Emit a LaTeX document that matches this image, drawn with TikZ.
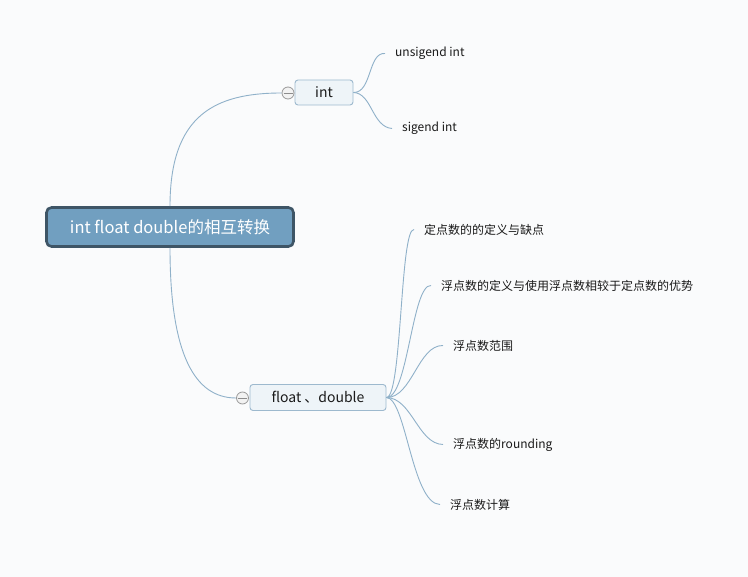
\documentclass[tikz,border=0pt]{standalone}
\usepackage{fontspec}
\setmainfont{Noto Sans CJK SC}
\definecolor{bgc}{HTML}{FAFBFC}
\definecolor{rootfill}{HTML}{719FC0}
\definecolor{rootdraw}{HTML}{3E5566}
\definecolor{subfill}{HTML}{EEF4F8}
\definecolor{subdraw}{HTML}{9DB9CE}
\definecolor{linec}{HTML}{8FB1C9}
\definecolor{txt}{HTML}{1A1A1A}
\begin{document}
\begin{tikzpicture}[x=1pt,y=-1pt,
  rootbox/.style={draw=rootdraw,fill=rootfill,line width=2.6pt,rounded corners=5pt,minimum width=247pt,minimum height=39pt,inner sep=0pt,text=white,font=\fontsize{16.5}{19}\selectfont},
  subbox/.style={draw=subdraw,fill=subfill,line width=0.9pt,rounded corners=3pt,inner sep=0pt,minimum height=25pt,text=txt,font=\fontsize{14}{16}\selectfont},
  leaf/.style={anchor=west,inner xsep=10pt,inner ysep=2pt,text=txt,font=\fontsize{12}{14}\selectfont},
  knob/.style={circle,draw=gray!80,fill=gray!10,line width=0.8pt,minimum size=12pt,inner sep=0pt,path picture={\draw[gray!90,line width=0.8pt] ([xshift=-4.5pt]path picture bounding box.center)--([xshift=4.5pt]path picture bounding box.center);}},
  conn/.style={draw=linec,line width=0.9pt}
]
\fill[bgc] (0,0) rectangle (748,577);
\useasboundingbox (0,0) rectangle (748,577);

\node[rootbox] (root) at (170,227) {int float double的相互转换};
\node[subbox,minimum width=58pt] (int) at (324,92.5) {int};
\node[subbox,minimum width=136pt,minimum height=26pt] (fl) at (318,397.5) {float 、double};
\node[knob] (c1) at (288,93) {};
\node[knob] (c2) at (242.5,398) {};

\node[leaf] (u) at (385,53.5) {unsigend int};
\node[leaf] (s) at (392,128.5) {sigend int};
\node[leaf] (l1) at (414,229.5) {定点数的的定义与缺点};
\node[leaf] (l2) at (431,285.5) {浮点数的定义与使用浮点数相较于定点数的优势};
\node[leaf] (l3) at (443,345.5) {浮点数范围};
\node[leaf] (l4) at (443,444.5) {浮点数的rounding};
\node[leaf] (l5) at (440,504.5) {浮点数计算};

\path[conn] (root.north) .. controls (170,115) and (215,93) .. (c1.west);
\path[conn] (root.south) .. controls (170,355) and (195,398) .. (c2.west);

\path[conn] (int.east) .. controls (372,93) and (368,52) .. (u.west);
\path[conn] (int.east) .. controls (372,93) and (372,127) .. (s.west);

\path[conn] (fl.east) .. controls (402,398) and (400,228) .. (l1.west);
\path[conn] (fl.east) .. controls (408,398) and (412,284) .. (l2.west);
\path[conn] (fl.east) .. controls (412,398) and (418,345) .. (l3.west);
\path[conn] (fl.east) .. controls (412,398) and (418,444) .. (l4.west);
\path[conn] (fl.east) .. controls (406,398) and (412,504) .. (l5.west);
\end{tikzpicture}
\end{document}
